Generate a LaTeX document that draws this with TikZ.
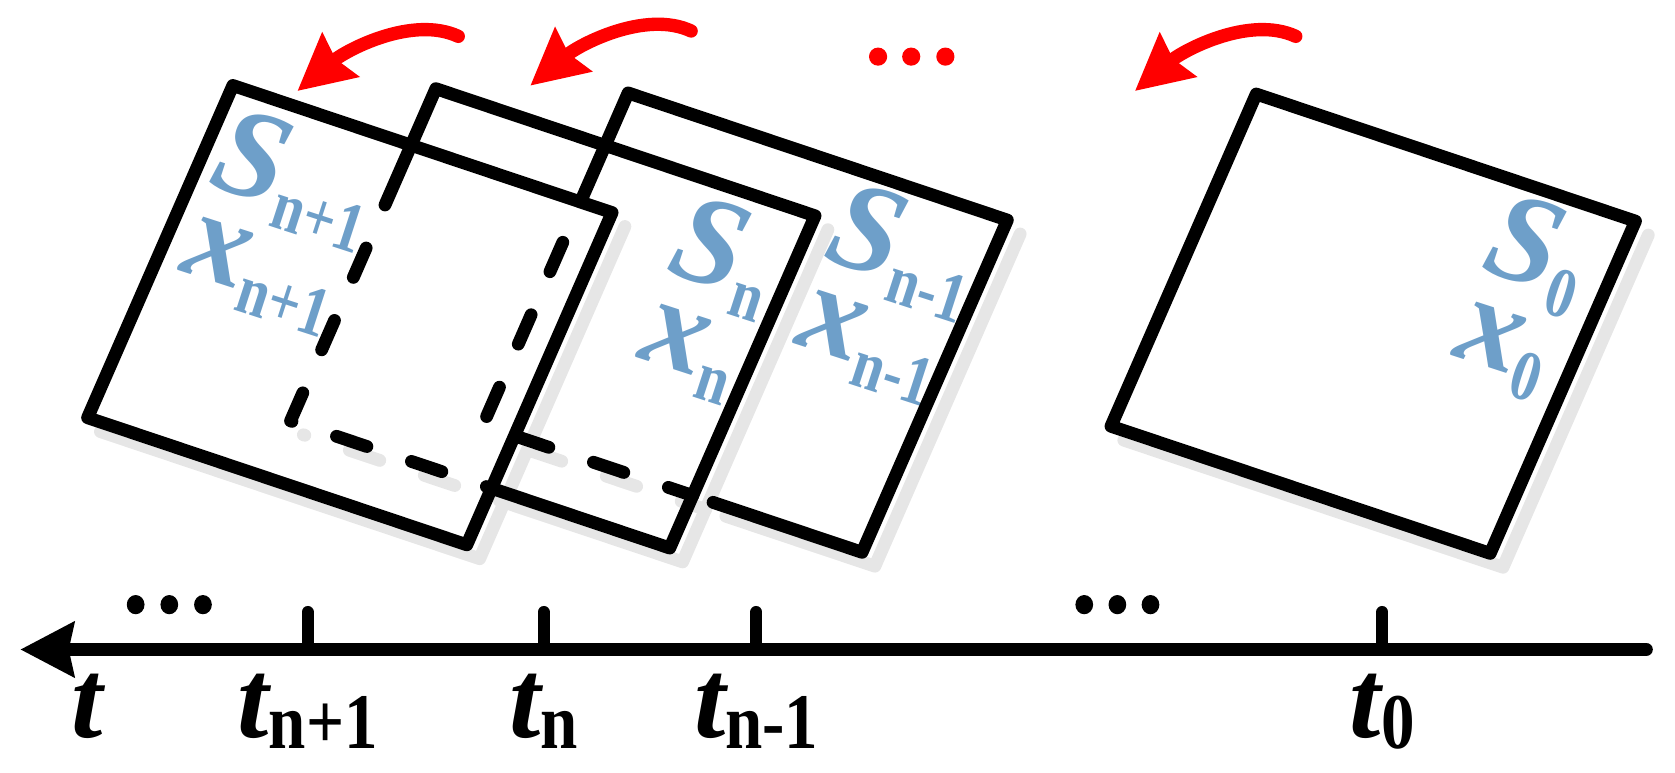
\documentclass[tikz,border=0pt]{standalone}
\usepackage{fontspec}
\setmainfont{Liberation Serif}
\usetikzlibrary{arrows.meta,calc}
\definecolor{stateblue}{HTML}{6E9FC9}
\definecolor{shade}{HTML}{E6E6E6}
\newcommand{\subl}[1]{\raisebox{-0.16em}{\fontsize{19}{19}\selectfont\upshape\scalebox{0.8}[1]{#1}}}
\newcommand{\subt}[1]{\raisebox{-0.1em}{\fontsize{21}{21}\selectfont\upshape\scalebox{0.85}[1]{#1}}}
\tikzset{sheet/.style={line width=1.2mm,line join=round,line cap=round}, hiddenedge/.style={sheet,dash pattern=on 3mm off 4.4mm,dash phase=3mm}, sheetshadow/.style={draw=shade}, statelabel/.style={text=stateblue,font=\fontsize{34}{24}\selectfont\bfseries\itshape,rotate=-18,inner sep=0pt,align=left}, timelabel/.style={font=\fontsize{30}{30}\selectfont\bfseries\itshape,inner sep=0pt,anchor=base}, tickmark/.style={line width=1.15mm,line cap=round}, timeaxis/.style={line width=1.25mm,line cap=round,-{Stealth[length=5mm,width=5.05mm,inset=0.47mm]}}, rotarrow/.style={red,line width=1.25mm,line cap=round,-{Stealth[length=5.2mm,width=5.2mm,inset=0.53mm]}}}
\begin{document}
\begin{tikzpicture}[x=0.1mm,y=-0.1mm]
\useasboundingbox (0,0) rectangle (1568,723);
\foreach \n/\x/\y in {a/218/80,b/408/83,c/588/87,o/1176/88}{
  \coordinate (tl\n) at (\x,\y);
  \coordinate (tr\n) at ($(tl\n)+(355,119)$);
  \coordinate (bl\n) at ($(tl\n)+(-136,311)$);
  \coordinate (br\n) at ($(tl\n)+(219,430)$);}
\coordinate (pb) at ($(tlb)!0.35!(blb)$);
\coordinate (pc) at ($(tlc)!0.32!(blc)$);
\coordinate (qb) at (intersection of blb--brb and tra--bra);
\coordinate (qc) at (intersection of blc--brc and trb--brb);
\coordinate (qc2) at ($(qc)!2mm!(brc)$);
% shadows
\foreach \n in {a,o}
  \draw[sheet,sheetshadow] ([shift={(12,13)}]bl\n) -- ([shift={(12,13)}]br\n) -- ([shift={(12,13)}]tr\n);
\draw[hiddenedge,sheetshadow,dash phase=2.86mm] ([shift={(12,13)}]blb) -- ([shift={(12,13)}]qb);
\draw[sheet,sheetshadow] ([shift={(12,13)}]qb) -- ([shift={(12,13)}]brb) -- ([shift={(12,13)}]trb);
\draw[hiddenedge,sheetshadow,dash phase=3.88mm] ([shift={(12,13)}]blc) -- ([shift={(12,13)}]qc);
\draw[sheet,sheetshadow] ([shift={(12,13)}]qc2) -- ([shift={(12,13)}]brc) -- ([shift={(12,13)}]trc);
% states
\node[statelabel] (la) at (262,208) {S\subl{n+1}\\x\subl{n+1}};
\node[statelabel] (lb) at (664,281) {S\subl{n}\\x\subl{n}};
\node[statelabel] (lc) at (832,275) {S\subl{n-1}\\x\subl{n-1}};
\node[statelabel] (lo) at (1425,279) {S\subl{0}\\x\subl{0}};
% sheets
\draw[sheet] (tla) -- (tra) -- (bra) -- (bla) -- cycle;
\draw[sheet] (tlo) -- (tro) -- (bro) -- (blo) -- cycle;
\draw[sheet] (qb) -- (brb) -- (trb) -- (tlb) -- (pb);
\draw[hiddenedge] (pb) -- (blb) -- (qb);
\draw[sheet] (qc2) -- (brc) -- (trc) -- (tlc) -- (pc);
\draw[hiddenedge] (pc) -- (blc) -- (qc);
% rotation arrows
\foreach \dx/\dy in {0/0,218/-5,784/0}
  \draw[rotarrow,shift={(\dx,\dy)}] (429,34) .. controls (386,14) and (324,47) .. (278.4,85.2);
\foreach \x in {822,853,885} \fill[red] (\x,53) ellipse [x radius=0.85mm,y radius=0.85mm];
% time axis
\coordinate (tend) at (1541,608);
\coordinate (tip) at (19,608);
\draw[timeaxis] (tend) -- (tip);
\foreach \k/\x in {1/288,2/509,3/708,4/1294}{
  \coordinate (tk\k) at (\x,608);
  \draw[tickmark] (tk\k) -- ++(0,-35);}
\node[timelabel] (t) at (82,690) {t};
\path (tk1) ++(0,82) node[timelabel] (t1) {t\subt{n+1}};
\path (tk2) ++(0,82) node[timelabel] (t2) {t\subt{n}};
\path (tk3) ++(0,82) node[timelabel] (t3) {t\subt{n-1}};
\path (tk4) ++(0,82) node[timelabel] (t4) {t\subt{0}};
\foreach \x in {127,158.5,190,1015,1046,1077} \fill (\x,566) ellipse [x radius=0.83mm,y radius=0.9mm];
\end{tikzpicture}
\end{document}
